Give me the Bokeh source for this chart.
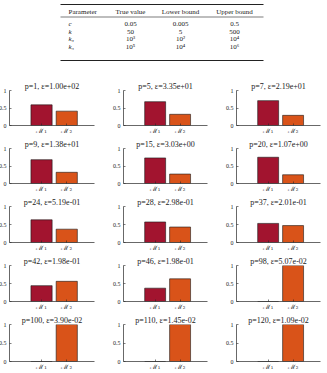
from bokeh.plotting import figure
from bokeh.layouts import column, gridplot
from bokeh.models import FixedTicker, ColumnDataSource, Range1d
from bokeh.core.properties import value
from bokeh.embed import file_html
from bokeh.resources import INLINE

# ---- table data ----
headers = ["Parameter", "True value", "Lower bound", "Upper bound"]
param_names = ["c", "k", "k₃", "k₅"]
true_values = ["0.05", "50", "10³", "10⁵"]
lower_bounds = ["0.005", "5", "10²", "10⁴"]
upper_bounds = ["0.5", "500", "10⁴", "10⁶"]

# ---- bar chart data ----
p_values = [1, 5, 7, 9, 15, 20, 24, 28, 37, 42, 46, 98, 100, 110, 120]
eps_labels = ["1.00e+02", "3.35e+01", "2.19e+01", "1.38e+01", "3.03e+00",
              "1.07e+00", "5.19e-01", "2.98e-01", "2.01e-01", "1.98e-01",
              "1.98e-01", "5.07e-02", "3.90e-02", "1.45e-02", "1.09e-02"]
m1_probs = [0.59, 0.68, 0.71, 0.68, 0.73, 0.75, 0.63, 0.57, 0.53, 0.44,
            0.37, 0.0, 0.0, 0.0, 0.0]
m2_probs = [0.41, 0.32, 0.29, 0.32, 0.27, 0.25, 0.37, 0.43, 0.47, 0.56,
            0.63, 1.0, 1.0, 1.0, 1.0]
model_labels = ["ℳ₁", "ℳ₂"]
model_pos = [1, 2]
model_colors = ["#A2142F", "#D95319"]

SERIF = "Liberation Serif"
AX = "#262626"

# ---- table figure ----
tf = figure(width=327, height=79, x_range=Range1d(0, 327), y_range=Range1d(79, 0),
            output_backend="svg", toolbar_location=None, min_border=0)
tf.axis.visible = False
tf.grid.visible = False
tf.outline_line_color = None
col_x = [68, 130, 180, 234]
aligns = ["left", "center", "center", "center"]
for cx, al, h in zip(col_x, aligns, headers):
    tf.text(x=[cx], y=[11], text=[h], text_align=al, text_baseline="middle",
            text_font=value(SERIF), text_font_size="7px", text_color="#222222")
row_y = [23, 31, 38.5, 46]
tf.text(x=[col_x[0]] * 4, y=row_y, text=param_names, text_align="left",
        text_baseline="middle", text_font=value(SERIF), text_font_size="7px",
        text_font_style="italic", text_color="#222222")
for cx, vals in zip(col_x[1:], [true_values, lower_bounds, upper_bounds]):
    tf.text(x=[cx] * 4, y=row_y, text=vals, text_align="center",
            text_baseline="middle", text_font=value(SERIF), text_font_size="7px",
            text_color="#222222")
tf.segment(x0=[60, 60, 60], y0=[4, 16.5, 60], x1=[263, 263, 263], y1=[4, 16.5, 60],
           line_color="#222222", line_width=[1.0, 0.6, 1.0])

# ---- bar subplots ----
col_w = [114, 113, 105]
col_l = [13, 12, 12]
row_h = [58, 58, 59, 59, 60]
FRAME_W = 86
FRAME_H = 37
TOP = 11

figs = []
for i in range(len(p_values)):
    r, c = divmod(i, 3)
    w = col_w[c]
    h = row_h[r]
    f = figure(width=w, height=h, x_range=Range1d(-0.27, 3.1), y_range=Range1d(0, 1),
               output_backend="svg", toolbar_location=None,
               min_border_left=col_l[c], min_border_right=w - col_l[c] - FRAME_W,
               min_border_top=TOP, min_border_bottom=h - TOP - FRAME_H,
               title=f"p={p_values[i]}, ε={eps_labels[i]}")
    f.title.align = "center"
    f.title.text_font = SERIF
    f.title.text_font_size = "8px"
    f.title.text_font_style = "normal"
    f.title.text_color = "#222222"
    f.title.standoff = -1
    f.title.offset = 0
    src = ColumnDataSource(dict(x=model_pos, top=[m1_probs[i], m2_probs[i]],
                                color=model_colors))
    f.vbar(x="x", top="top", width=0.84, fill_color="color", line_color="#1a1a1a",
           line_width=0.6, source=src)
    f.grid.visible = False
    f.outline_line_color = None
    f.background_fill_color = "white"
    f.border_fill_color = "white"
    for ax in (f.xaxis[0], f.yaxis[0]):
        ax.axis_line_color = AX
        ax.axis_line_width = 0.7
        ax.major_tick_line_color = AX
        ax.major_tick_line_width = 0.6
        ax.major_tick_in = 2
        ax.major_tick_out = 0
        ax.minor_tick_line_color = None
        ax.major_label_text_font = SERIF
        ax.major_label_text_color = "#222222"
    f.yaxis.major_label_text_font_size = "6px"
    f.yaxis.major_label_standoff = 3
    f.xaxis.major_label_text_font = "DejaVu Serif"
    f.xaxis.major_label_text_font_size = "6.5px"
    f.xaxis.major_label_standoff = 1
    f.xaxis.ticker = FixedTicker(ticks=model_pos)
    f.xaxis.major_label_overrides = {1: model_labels[0], 2: model_labels[1]}
    f.yaxis.ticker = FixedTicker(ticks=[0, 0.5, 1])
    f.yaxis.major_label_overrides = {0: "0", 0.5: "0.5", 1: "1"}
    figs.append(f)

grid = gridplot(figs, ncols=3, toolbar_location=None)
grid.styles = {"margin-left": "-5px"}
layout = column(tf, grid)

open("out.html", "w").write(file_html(layout, INLINE))
